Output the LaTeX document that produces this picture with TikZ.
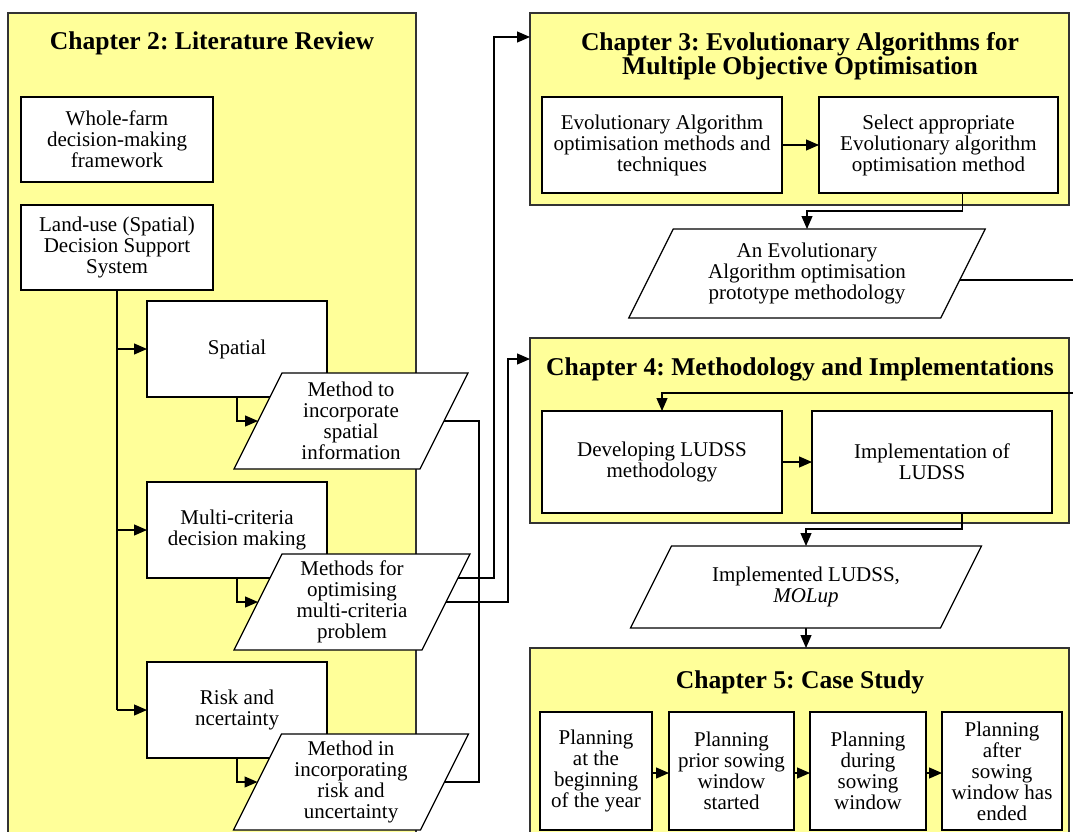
\documentclass[tikz,border=0pt]{standalone}
\usepackage{fontspec}
\setmainfont{Liberation Serif}
\usetikzlibrary{arrows.meta,calc}
\definecolor{chyellow}{HTML}{FFFF99}
\definecolor{chborder}{HTML}{333333}
\newcommand\bodyfont{\fontsize{21}{21}\selectfont}
\newcommand\titlefont{\fontsize{25.6}{23}\selectfont\bfseries}
\frenchspacing
\tikzset{
 wbox/.style={draw=black, line width=1.2pt, fill=white, inner sep=0pt, outer sep=0pt, align=center, font=\bodyfont},
 chbox/.style={draw=chborder, line width=1.5pt, fill=chyellow},
 ptext/.style={inner sep=0pt, outer sep=0pt, align=center, font=\bodyfont},
 pshape/.style={draw=black, line width=1.2pt, fill=white},
 title/.style={font=\titlefont, align=center, inner sep=0pt},
 conn/.style={draw=black, line width=1.2pt},
 arr/.style={conn, -{Triangle[length=13pt,width=11pt]}},
}
% box from (x1,y1) to (x2,y2)
\newcommand\bx[7][]{%
 \pgfmathsetmacro\bxcx{(#3+#5)/2}\pgfmathsetmacro\bxcy{(#4+#6)/2}%
 \pgfmathsetmacro\bxw{#5-#3}\pgfmathsetmacro\bxh{#6-#4}%
 \node[wbox,minimum width=\bxw pt,minimum height=\bxh pt,#1] (#2) at (\bxcx,\bxcy) {#7};}
% invisible frame of a parallelogram: name, cx, cy, w, h
\newcommand\pnode[5]{\path node[ptext,minimum width=#4pt,minimum height=#5pt] (#1) at (#2,#3) {};}
% draw parallelogram shape and text: name, h, text
\newcommand\pdraw[3]{%
 \draw[pshape] ($(#1.north west)+(#2/4,0)$) -- ($(#1.north east)+(#2/4,0)$) -- ($(#1.south east)+(-#2/4,0)$) -- ($(#1.south west)+(-#2/4,0)$) -- cycle;
 \node[ptext] (#1-t) at (#1) {#3};}
\begin{document}
\begin{tikzpicture}[x=1pt,y=-1pt]
\useasboundingbox (0,0) rectangle (1073,832);
\clip (0,0) rectangle (1073,832);
% chapter frames
\bx[chbox]{ch2}{8}{13}{416}{870}{}
\bx[chbox]{ch3}{530}{13}{1069}{205}{}
\bx[chbox]{ch4}{530}{338}{1069}{523}{}
\bx[chbox]{ch5}{530}{648}{1069}{870}{}
\node[title] (t2) at (212,43) {Chapter 2: Literature Review};
\node[title] (t3) at (800,56.5) {Chapter 3: Evolutionary Algorithms for\\Multiple Objective Optimisation};
\node[title] (t4) at (800,369) {Chapter 4: Methodology and Implementations};
\node[title] (t5) at (800,682) {Chapter 5: Case Study};
% boxes
\bx{wf}{21}{97}{213}{182}{Whole-farm\\decision-making\\framework}
\bx{lu}{21}{205}{213}{290}{Land-use (Spatial)\\Decision Support\\System}
\bx{sp}{147}{301}{327}{397}{Spatial}
\bx{mc}{147}{482}{327}{578}{Multi-criteria\\decision making}
\bx{rk}{147}{662}{327}{758}{Risk and\\ncertainty}
\bx{ea}{542}{97}{782}{193}{Evolutionary Algorithm\\optimisation methods and\\techniques}
\bx{sel}{819}{97}{1058}{193}{Select appropriate\\Evolutionary algorithm\\optimisation method}
\bx{dev}{542}{411}{782}{513}{Developing LUDSS\\methodology}
\bx{impl}{812}{411}{1052}{513}{Implementation of\\LUDSS}
\bx{pa}{540}{712}{652}{830}{Planning\\at the\\beginning\\of the year}
\bx{pb}{669}{712}{794}{830}{Planning\\prior sowing\\window\\started}
\bx{pc}{810}{712}{926}{830}{Planning\\during\\sowing\\window}
\bx{pd}{942}{712}{1062}{830}{Planning\\after\\sowing\\window has\\ended}
% parallelogram frames
\pnode{p1}{351}{421}{186}{96}
\pnode{p2}{352}{602}{188}{96}
\pnode{p3}{351}{782}{187}{96}
\pnode{p4}{807}{273.5}{312}{89}
\pnode{p5}{806}{587}{310}{82}
% connectors
\draw[conn] (lu.south) -- (lu.south |- rk.west);
\draw[arr] (lu.south |- sp.west) -- (sp.west);
\draw[arr] (lu.south |- mc.west) -- (mc.west);
\draw[arr] (lu.south |- rk.west) -- (rk.west);
\draw[arr] (sp.south) |- (p1.west);
\draw[arr] (mc.south) |- (p2.west);
\draw[arr] (rk.south) |- (p3.west);
\draw[conn] (p1.east) -- ++(35,0) |- (p3.east);
\draw[arr] ($(p2.east)+(12,-24)$) -| ($(ch3.north west)+(-36,24)$) -- ($(ch3.north west)+(0,24)$);
\draw[arr] (p2.east) -| ($(ch4.north west)+(-22,21)$) -- ($(ch4.north west)+(0,21)$);
\draw[arr] (ea.east) -- (sel.west);
\draw[arr] ($(sel.south)+(24,0)$) -- ++(0,18) -| (p4.north);
\draw[arr] ($(p4.east)+(-3.25,6.5)$) -- ++(140,0) |- ($(dev.north)+(0,-18)$) -- (dev.north);
\draw[arr] (dev.east) -- (impl.west);
\draw[arr] ($(impl.south)+(30,0)$) -- ++(0,16) -| (p5.north);
\draw[arr] (p5.south) -- (p5.south |- ch5.north);
\draw[arr] ($(pa.north east)+(0,61)$) -- ($(pb.north west)+(0,61)$);
\draw[arr] ($(pb.north east)+(0,61)$) -- ($(pc.north west)+(0,61)$);
\draw[arr] ($(pc.north east)+(0,61)$) -- ($(pd.north west)+(0,61)$);
% parallelograms
\pdraw{p1}{96}{Method to\\incorporate\\spatial\\information}
\pdraw{p2}{96}{Methods for\\optimising\\multi-criteria\\problem}
\pdraw{p3}{96}{Method in\\incorporating\\risk and\\uncertainty}
\pdraw{p4}{89}{An Evolutionary\\Algorithm optimisation\\prototype methodology}
\pdraw{p5}{82}{Implemented LUDSS,\\\textit{MOLup}}
\end{tikzpicture}
\end{document}
